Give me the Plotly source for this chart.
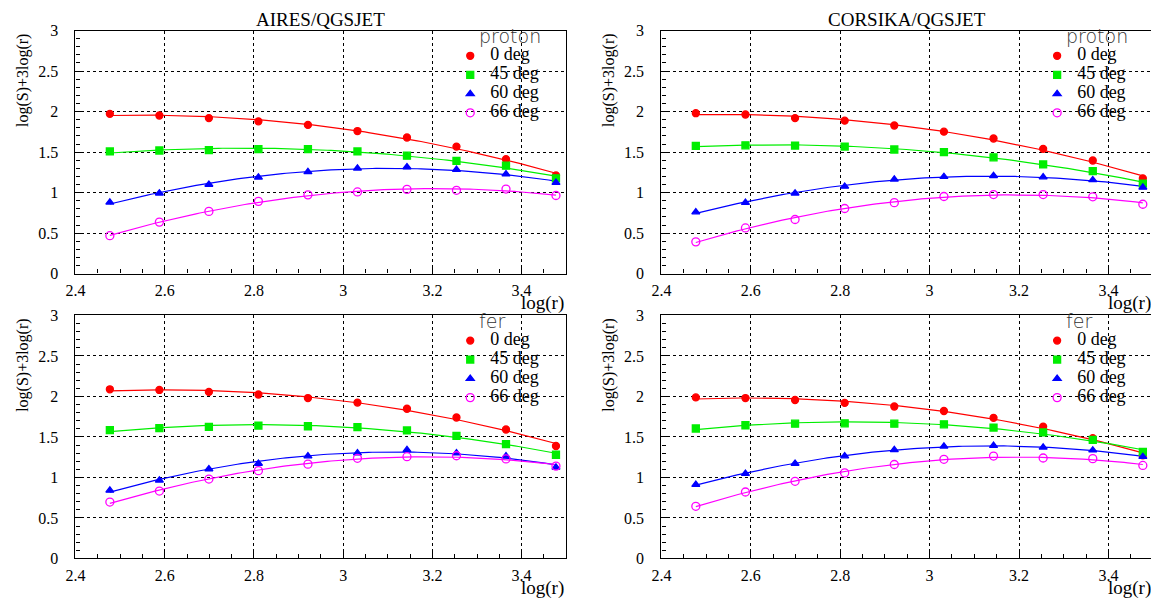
import numpy as np
import plotly.graph_objects as go

# ---------------- data ----------------
log_r = [2.477, 2.588, 2.699, 2.810, 2.921, 3.032, 3.143, 3.254, 3.365, 3.477]
angles = ["0 deg", "45 deg", "60 deg", "66 deg"]

# AIRES/QGSJET proton
aires_proton_0 = [1.972, 1.952, 1.920, 1.880, 1.836, 1.760, 1.680, 1.568, 1.412, 1.212]
aires_proton_45 = [1.508, 1.520, 1.524, 1.536, 1.536, 1.508, 1.456, 1.392, 1.332, 1.176]
aires_proton_60 = [0.880, 0.992, 1.100, 1.188, 1.256, 1.300, 1.316, 1.284, 1.228, 1.124]
aires_proton_66 = [0.468, 0.636, 0.768, 0.892, 0.972, 1.008, 1.040, 1.028, 1.044, 0.964]

# CORSIKA/QGSJET proton
corsika_proton_0 = [1.980, 1.964, 1.920, 1.888, 1.828, 1.752, 1.668, 1.540, 1.396, 1.176]
corsika_proton_45 = [1.576, 1.584, 1.580, 1.568, 1.532, 1.500, 1.436, 1.348, 1.264, 1.112]
corsika_proton_60 = [0.760, 0.876, 0.992, 1.076, 1.164, 1.196, 1.208, 1.192, 1.156, 1.064]
corsika_proton_66 = [0.392, 0.564, 0.668, 0.804, 0.876, 0.952, 0.976, 0.976, 0.948, 0.856]

# AIRES/QGSJET fer
aires_fer_0 = [2.088, 2.080, 2.056, 2.024, 1.980, 1.924, 1.848, 1.740, 1.592, 1.388]
aires_fer_45 = [1.584, 1.608, 1.624, 1.640, 1.632, 1.620, 1.580, 1.512, 1.412, 1.280]
aires_fer_60 = [0.840, 0.964, 1.104, 1.172, 1.264, 1.300, 1.340, 1.300, 1.264, 1.124]
aires_fer_66 = [0.696, 0.832, 0.980, 1.084, 1.164, 1.236, 1.256, 1.268, 1.228, 1.140]

# CORSIKA/QGSJET fer
corsika_fer_0 = [1.988, 1.980, 1.956, 1.920, 1.876, 1.820, 1.736, 1.628, 1.484, 1.272]
corsika_fer_45 = [1.604, 1.644, 1.664, 1.668, 1.664, 1.656, 1.616, 1.556, 1.464, 1.316]
corsika_fer_60 = [0.912, 1.048, 1.172, 1.264, 1.340, 1.384, 1.392, 1.372, 1.336, 1.256]
corsika_fer_66 = [0.644, 0.820, 0.952, 1.056, 1.160, 1.224, 1.264, 1.240, 1.232, 1.148]

panel_titles = ["AIRES/QGSJET", "CORSIKA/QGSJET", "", ""]
primaries = ["proton", "proton", "fer", "fer"]
x_ticks = [2.4, 2.6, 2.8, 3.0, 3.2, 3.4]
x_tick_labels = ["2.4", "2.6", "2.8", "3", "3.2", "3.4"]
y_ticks = [0, 0.5, 1, 1.5, 2, 2.5, 3]
y_tick_labels = ["0", "0.5", "1", "1.5", "2", "2.5", "3"]

panels = [
    [aires_proton_0, aires_proton_45, aires_proton_60, aires_proton_66],
    [corsika_proton_0, corsika_proton_45, corsika_proton_60, corsika_proton_66],
    [aires_fer_0, aires_fer_45, aires_fer_60, aires_fer_66],
    [corsika_fer_0, corsika_fer_45, corsika_fer_60, corsika_fer_66],
]

# ---------------- style ----------------
# the page body has an 8px margin: window pixel = figure pixel + 8
OFF = 8
W, H = 1159, 610
colors = ["#ff0000", "#00ee00", "#0000ff", "#ff00ff"]
symbols = ["circle", "square", "triangle-up", "circle-open"]
msizes = [7, 7, 7, 8]
SERIF = "Liberation Serif"
SANS = "DejaVu Sans Light, DejaVu Sans"


def px(xp):
    return (xp - OFF) / W


def py(yp):
    return 1 - (yp - OFF) / H


# plot-area boxes in window pixels (left, right, top, bottom)
boxes = [(66, 561, 23, 273), (657, 1153, 23, 273), (66, 561, 316, 566), (657, 1153, 316, 566)]

fig = go.Figure()
layout = {}
annotations = []

for p, (series, box) in enumerate(zip(panels, boxes)):
    ax = "" if p == 0 else str(p + 1)
    xref, yref = "x" + ax, "y" + ax
    leg = "legend" if p == 0 else "legend" + str(p + 1)
    l, r, t, b = box
    xs = np.array(log_r)
    for k, ys in enumerate(series):
        coef = np.polyfit(xs, np.array(ys), 2)
        xf = np.linspace(xs[0], xs[-1], 120)
        fig.add_trace(go.Scatter(x=xf, y=np.polyval(coef, xf), mode="lines",
                                 line=dict(color=colors[k], width=1.2),
                                 xaxis=xref, yaxis=yref, showlegend=False, hoverinfo="skip"))
    for k, ys in enumerate(series):
        fig.add_trace(go.Scatter(x=log_r, y=ys, mode="markers",
                                 name=f'<span style="font-size:18px">{angles[k]}</span>',
                                 marker=dict(color=colors[k], symbol=symbols[k], size=msizes[k],
                                             line=dict(color=colors[k], width=1.3)),
                                 xaxis=xref, yaxis=yref, legend=leg, showlegend=True))

    common = dict(showline=True, linecolor="black", linewidth=1.3, mirror=True,
                  ticks="inside", tickcolor="black", ticklen=8, tickwidth=1,
                  showgrid=True, gridcolor="black", griddash="dot", gridwidth=1,
                  zeroline=False, tickfont=dict(family=SERIF, size=16, color="black"))
    layout["xaxis" + ax] = dict(common, domain=[px(l), px(r)], range=[2.4, 3.5],
                                tickvals=x_ticks, ticktext=x_tick_labels, anchor=yref,
                                ticklabelstandoff=2,
                                minor=dict(dtick=0.05, tick0=2.4, ticks="inside", ticklen=4,
                                           tickcolor="black", showgrid=False))
    layout["yaxis" + ax] = dict(common, domain=[py(b), py(t)], range=[0, 3],
                                tickvals=y_ticks, ticktext=y_tick_labels, anchor=xref,
                                ticklabelstandoff=13,
                                minor=dict(dtick=0.1, tick0=0, ticks="inside", ticklen=4,
                                           tickcolor="black", showgrid=False))
    layout[leg] = dict(x=px(r - 117), y=py(t + 11), xanchor="left", yanchor="top",
                       bgcolor="rgba(0,0,0,0)", font=dict(family=SERIF, size=10, color="black"),
                       tracegroupgap=0, itemwidth=30)
    if panel_titles[p]:
        annotations.append(dict(text=panel_titles[p], xref="paper", yref="paper",
                                x=px((l + r) / 2), y=py(t - 11), xanchor="center", yanchor="middle",
                                showarrow=False, font=dict(family=SERIF, size=19, color="black")))
    annotations.append(dict(text=primaries[p], xref="paper", yref="paper",
                            x=px(r - 90), y=py(t + 6), xanchor="left", yanchor="middle",
                            showarrow=False, font=dict(family=SANS, size=19, color="#333")))
    annotations.append(dict(text="log(r)", xref="paper", yref="paper",
                            x=px(r), y=py(b + 17), xanchor="right", yanchor="top",
                            showarrow=False, font=dict(family=SERIF, size=19, color="black")))
    annotations.append(dict(text="log(S)+3log(r)", xref="paper", yref="paper",
                            x=px(l - 53), y=py(t + 1), xanchor="center", yanchor="top",
                            textangle=-90, showarrow=False,
                            font=dict(family=SERIF, size=16, color="black")))

fig.update_layout(width=W, height=H, margin=dict(l=0, r=0, t=0, b=0),
                  paper_bgcolor="white", plot_bgcolor="white",
                  font=dict(family=SERIF, color="black"),
                  annotations=annotations, **layout)
fig.write_html("out.html")
